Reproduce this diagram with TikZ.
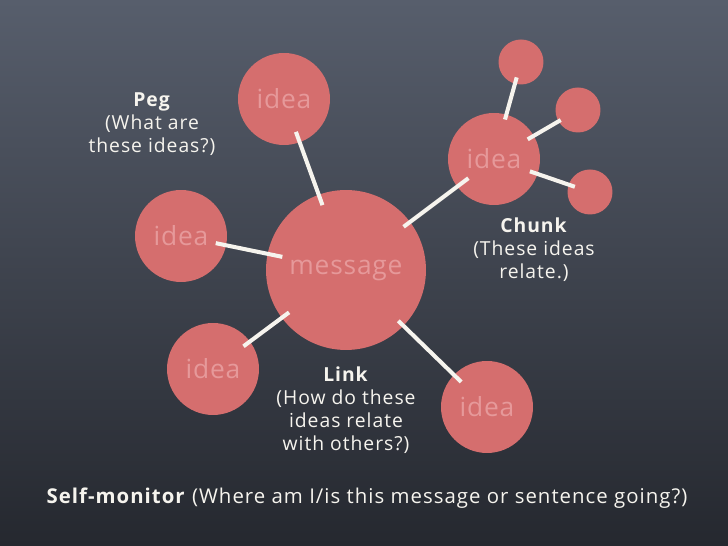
\documentclass[tikz,border=0pt]{standalone}
\usepackage{fontspec}
\setmainfont{Open Sans}
\definecolor{boardtop}{HTML}{575E6C}
\definecolor{boardbottom}{HTML}{25282F}
\definecolor{chalkred}{HTML}{D56E6E}
\definecolor{faint}{HTML}{E6999A}
\definecolor{chalk}{HTML}{F6F4EE}

\begin{document}
\begin{tikzpicture}[x=0.02cm,y=-0.02cm,
  blob/.style={circle,fill=chalkred,inner sep=0pt,text=faint,
    font=\fontsize{15}{16}\selectfont\addfontfeature{LetterSpace=3}},
  idea/.style={blob,minimum size=1.84cm},
  bud/.style={blob,minimum size=0.9cm},
  link/.style={draw=chalk,line width=2.3pt},
  note/.style={text=chalk,align=center,
    font=\fontsize{11}{13}\selectfont\addfontfeature{LetterSpace=5}}]

 % Board
\fill[top color=boardtop,bottom color=boardbottom] (0,0) rectangle (728,546);

 % Nodes
\node[blob,minimum size=3.2cm] (msg) at (346,270) {message};

\node[idea] (ideaT)  at (284,99)  {idea};
\node[idea] (ideaL)  at (181,236) {idea};
\node[idea] (chunk)  at (494,159) {idea};
\node[idea] (ideaBL) at (213,369) {idea};
\node[idea] (ideaBR) at (487,407) {idea};

\node[bud] (budA) at (521,62)  {};
\node[bud] (budB) at (578,110) {};
\node[bud] (budC) at (590,192) {};

% Connect nodes
\draw[link,shorten <=0.7cm,shorten >=1.38cm]  (ideaT.center) -- (msg.center);
\draw[link,shorten <=0.71cm,shorten >=1.3cm]  (ideaL.center) -- (msg.center);
\draw[link,shorten <=1.44cm,shorten >=0.64cm] (msg.center) -- (chunk.center);
\draw[link,shorten <=1.42cm,shorten >=0.76cm] (msg.center) -- (ideaBL.center);
\draw[link,shorten <=1.46cm,shorten >=0.72cm] (msg.center) -- (ideaBR.center);
\draw[link,shorten <=0.82cm,shorten >=0.32cm] (chunk.center) -- (budA.center);
\draw[link,shorten <=0.78cm,shorten >=0.4cm]  (chunk.center) -- (budB.center);
\draw[link,shorten <=0.76cm,shorten >=0.32cm] (chunk.center) -- (budC.center);

 % Labels
\node[note] (peg) at (152,124) {\textbf{Peg}\\(What are\\these ideas?)};
\node[note] (chunknote) at (534,250) {\textbf{Chunk}\\(These ideas\\relate.)};
\node[note] (linknote) at (346,410) {\textbf{Link}\\(How do these\\ideas relate\\with others?)};
\node[note,font=\fontsize{11.6}{13}\selectfont\addfontfeature{LetterSpace=5}] (selfmon) at (367,498)
  {\textbf{Self-monitor} (Where am I/is this message or sentence going?)};

\end{tikzpicture}
\end{document}
